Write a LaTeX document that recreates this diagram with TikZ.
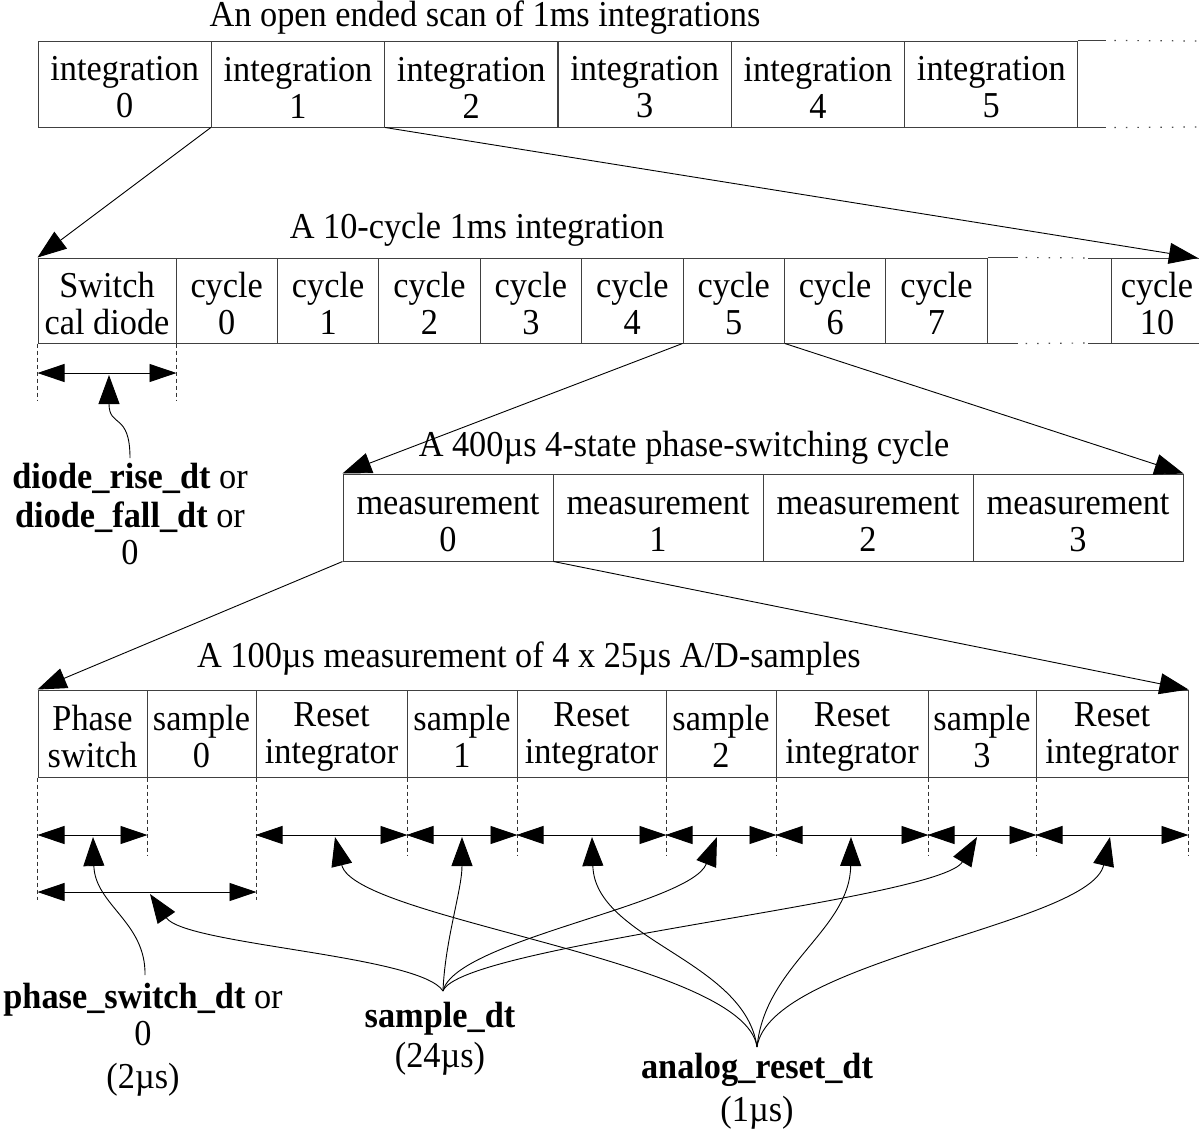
\documentclass[tikz,border=0pt]{standalone}
\usepackage{fontspec}
\setmainfont[FakeStretch=0.94]{Liberation Serif}
\usetikzlibrary{arrows.meta,calc}
\newcommand\mytopstrut{\rule{0pt}{31pt}}
\begin{document}
\begin{tikzpicture}[x=1pt,y=-1pt,
  every node/.style={font=\fontsize{36.5}{37}\selectfont, inner sep=0pt},
  cell/.style={draw=black!75, line width=1pt, align=center},
  arrowtip/.style={-{Triangle[length=29pt,width=21pt]}},
  conn/.style={line width=0.9pt, arrowtip},
  dimarrow/.style={line width=0.9pt, {Triangle[length=27pt,width=18pt]}-{Triangle[length=27pt,width=18pt]}},
  dashln/.style={line width=0.8pt, dash pattern=on 4pt off 3pt, black!80},
  dotln/.style={line width=1.2pt, dash pattern=on 1.5pt off 10pt, black!70},
  solidln/.style={line width=1pt, black!75},
  lab/.style={align=center, anchor=north}
]
\path[use as bounding box] (0,0) rectangle (1199,1136);

% ---------- titles
\node (t1) at (485,18) {An open ended scan of 1ms integrations};
\node (t2) at (477,230) {A 10-cycle 1ms integration};
\node (t3) at (684,448) {A 400µs 4-state phase-switching cycle};
\node (t4) at (529,659) {A 100µs measurement of 4 x 25µs A/D-samples};

% ---------- row 1
\foreach \i/\cx in {0/124.7,1/298,2/471.3,3/644.7,4/818,5/991.3}
  \node[cell, minimum width=173.3pt, minimum height=86pt] (i\i) at (\cx,84) {\mytopstrut integration\\\i};
\draw[solidln] (i5.north east) -- ++(28,0) coordinate (t1a);
\draw[solidln] (i5.south east) -- ++(28,0) coordinate (t1b);
\draw[dotln] (t1a) ++(8,0) -- (1199,41);
\draw[dotln] (t1b) ++(8,0) -- (1199,127);

% ---------- row 2
\node[cell, minimum width=138pt, minimum height=85pt] (sw) at (107,300.5) {\mytopstrut Switch\\cal diode};
\foreach \i/\cx in {0/226.7,1/328.1,2/429.5,3/530.9,4/632.3,5/733.7,6/835.1,7/936.5}
  \node[cell, minimum width=101.4pt, minimum height=85pt] (c\i) at (\cx,300.5) {\mytopstrut cycle\\\i};
\node[align=center, minimum width=88pt, minimum height=85pt] (c10) at (1157,300.5) {\mytopstrut cycle\\10};
\draw[solidln] (1200,258) -- (1111,258) -- (1111,343) -- (1200,343);
\draw[solidln] (c7.north east) -- ++(30,0) coordinate (g1);
\draw[solidln] (c7.south east) -- ++(30,0) coordinate (g2);
\draw[solidln] (1111,258) -- ++(-23,0) coordinate (g3);
\draw[solidln] (1111,343) -- ++(-23,0) coordinate (g4);
\draw[dotln] (g1) ++(8,0) -- (g3);
\draw[dotln] (g2) ++(8,0) -- (g4);
\coordinate (c10ne) at (1198,258);

% ---------- row 3
\foreach \i/\cx in {0/448,1/658,2/868,3/1078}
  \node[cell, minimum width=210pt, minimum height=87pt] (m\i) at (\cx,517.5) {\mytopstrut measurement\\\i};

% ---------- row 4
\node[cell, minimum width=109pt, minimum height=87pt] (ps) at (92.5,733.5) {\mytopstrut Phase\\switch};
\node[cell, minimum width=109pt, minimum height=87pt] (s0) at (201.5,733.5) {\mytopstrut sample\\0};
\node[cell, minimum width=151pt, minimum height=87pt] (r1) at (331.5,733.5) {\mytopstrut Reset\\integrator};
\node[cell, minimum width=110pt, minimum height=87pt] (s1) at (462,733.5) {\mytopstrut sample\\1};
\node[cell, minimum width=149pt, minimum height=87pt] (r2) at (591.5,733.5) {\mytopstrut Reset\\integrator};
\node[cell, minimum width=110pt, minimum height=87pt] (s2) at (721,733.5) {\mytopstrut sample\\2};
\node[cell, minimum width=152pt, minimum height=87pt] (r3) at (852,733.5) {\mytopstrut Reset\\integrator};
\node[cell, minimum width=108pt, minimum height=87pt] (s3) at (982,733.5) {\mytopstrut sample\\3};
\node[cell, minimum width=152pt, minimum height=87pt] (r4) at (1112,733.5) {\mytopstrut Reset\\integrator};

% ---------- zoom connectors
\draw[conn] (i1.south west) -- (sw.north west);
\draw[conn] (i1.south east) -- (c10ne);
\draw[conn] (c5.south west) -- (m0.north west);
\draw[conn] (c5.south east) -- (m3.north east);
\draw[conn] (m0.south west) -- (ps.north west);
\draw[conn] (m0.south east) -- (r4.north east);

% ---------- dimension lines row 2
\coordinate (dy2) at (0,373);
\draw[dashln] (sw.south west) -- ++(0,57);
\draw[dashln] (sw.south east) -- ++(0,57);
\draw[dimarrow] (sw.south west |- dy2) -- (sw.south east |- dy2);

% ---------- dimension lines row 4
\coordinate (dya) at (0,835);
\coordinate (dyb) at (0,892);
\draw[dashln] (ps.south west) -- ++(0,122);
\draw[dashln] (s0.south east) -- ++(0,122);
\foreach \n in {ps,r1,s1,r2,s2,r3,s3,r4}
  \draw[dashln] (\n.south east) -- ++(0,78);
\foreach \n in {ps,r1,s1,r2,s2,r3,s3,r4}
  \draw[dimarrow] (\n.south west |- dya) -- (\n.south east |- dya);
\draw[dimarrow] (ps.south west |- dyb) -- (s0.south east |- dyb);

% ---------- annotation tips and sources
\coordinate (dtip) at (109,375);
\coordinate (pstip) at (93,837);
\coordinate (s0tip) at (150,894);
\coordinate (s1tip) at (462,837);
\coordinate (s2tip) at (717,837);
\coordinate (s3tip) at (977,837);
\coordinate (r1tip) at (335,837);
\coordinate (r2tip) at (592,837);
\coordinate (r3tip) at (851,837);
\coordinate (r4tip) at (1110,837);
\coordinate (dsrc) at (130,458);
\coordinate (psrc) at (145,975);
\coordinate (ssrc) at (443,991);
\coordinate (asrc) at (757,1047);

% ---------- labels
\node[lab] (dlab) at (130,463) {\textbf{diode\_rise\_dt} or\\[2pt]\textbf{diode\_fall\_dt} or\\0};
\node[lab] (plab) at (143,983) {\textbf{phase\_switch\_dt} or\\0\\[6pt](2µs)};
\node[lab] (slab) at (440,1002) {\textbf{sample\_dt}\\[3pt](24µs)};
\node[lab] (alab) at (757,1053) {\textbf{analog\_reset\_dt}\\[6pt](1µs)};

% ---------- annotation curves
\draw[conn] (dsrc) .. controls (130,412) and (109,428) .. (dtip);
\draw[conn] (psrc) .. controls (146,922) and (95,905) .. (pstip);
\draw[conn] (ssrc) .. controls (420,955) and (185,945) .. (s0tip);
\draw[conn] (ssrc) .. controls (445,940) and (462,890) .. (s1tip);
\draw[conn] (ssrc) .. controls (455,940) and (690,905) .. (s2tip);
\draw[conn] (ssrc) .. controls (460,945) and (940,900) .. (s3tip);
\draw[conn] (asrc) .. controls (745,960) and (355,920) .. (r1tip);
\draw[conn] (asrc) .. controls (745,960) and (595,940) .. (r2tip);
\draw[conn] (asrc) .. controls (765,965) and (850,930) .. (r3tip);
\draw[conn] (asrc) .. controls (770,960) and (1090,925) .. (r4tip);
\end{tikzpicture}
\end{document}
